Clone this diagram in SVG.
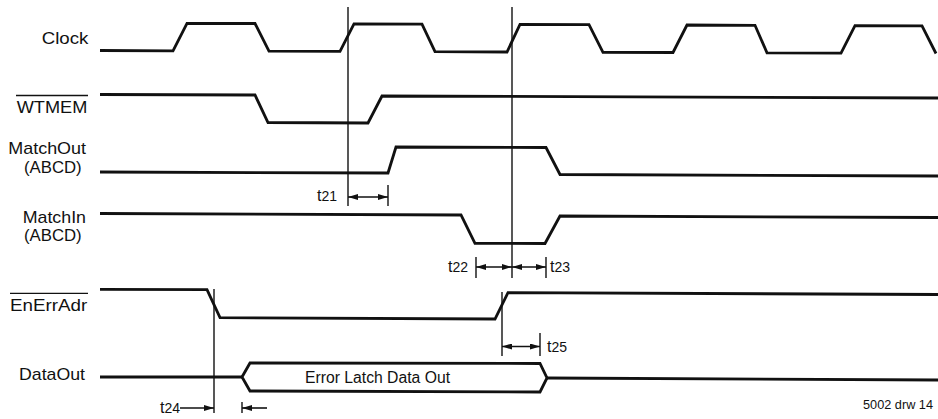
<svg xmlns="http://www.w3.org/2000/svg" width="938" height="419" viewBox="0 0 938 419">
<style>
.sig{fill:none;stroke:#111;stroke-width:2.8;stroke-linejoin:miter}
.ref{fill:none;stroke:#111;stroke-width:1.4}
.dim{fill:none;stroke:#111;stroke-width:1.6}
.lbl{font-family:"Liberation Sans",Arial,sans-serif;font-size:17px;fill:#111}
.tl{font-family:"Liberation Sans",Arial,sans-serif;font-size:16px;fill:#111}
.ts{font-size:14px}
.ovl{fill:none;stroke:#111;stroke-width:1.3}
</style>
<defs>
<marker id="ah" viewBox="0 0 10 6" refX="10" refY="3" markerWidth="10" markerHeight="6" markerUnits="userSpaceOnUse" orient="auto-start-reverse">
<path d="M0,0 L10,3 L0,6 Z" fill="#111"/>
</marker>
</defs>
<rect width="938" height="419" fill="#fff"/>

<g id="clock">
<text class="lbl" x="41.7" y="44" textLength="46.7" lengthAdjust="spacingAndGlyphs">Clock</text>
<polyline class="sig" points="100,50.5 173,50.8 187,23.3 255,23.5 269,51.1 340,51.3 354,23.9 422,24.1 435,51.7 507,52 520,24.5 589,24.7 603,52.3 673,52.5 687,25 755,25.3 767,52.8 841,53.1 855,25.6 922,25.9 936,53.5"/>
</g>

<g id="wtmem">
<text class="lbl" x="16.7" y="112.7" textLength="70.6" lengthAdjust="spacingAndGlyphs">WTMEM</text>
<line class="ovl" x1="16" y1="95.5" x2="88" y2="95.5"/>
<polyline class="sig" points="100,94.5 255,95 268,122.5 368,123 382,96 938,98"/>
</g>

<g id="matchout">
<text class="lbl" x="8.3" y="154" textLength="77.7" lengthAdjust="spacingAndGlyphs">MatchOut</text>
<text class="lbl" x="24" y="172.5" textLength="57.7" lengthAdjust="spacingAndGlyphs">(ABCD)</text>
<polyline class="sig" points="100,172 388,173 396,147 546,147.5 560,174.5 938,176"/>
</g>

<g id="matchin">
<text class="lbl" x="22.7" y="223" textLength="63.3" lengthAdjust="spacingAndGlyphs">MatchIn</text>
<text class="lbl" x="24" y="241" textLength="57.7" lengthAdjust="spacingAndGlyphs">(ABCD)</text>
<polyline class="sig" points="100,213.5 461,215 475,243.3 545,243.5 560,216 938,217.5"/>
</g>

<g id="enerradr">
<text class="lbl" x="10" y="310.7" textLength="77.3" lengthAdjust="spacingAndGlyphs">EnErrAdr</text>
<line class="ovl" x1="10" y1="293.3" x2="88" y2="293.3"/>
<polyline class="sig" points="100,289.3 207,289.7 220,317.7 495,319 508,292.7 938,294.5"/>
</g>

<g id="dataout">
<text class="lbl" x="19" y="380" textLength="66" lengthAdjust="spacingAndGlyphs">DataOut</text>
<polyline class="sig" points="100,377 242,377"/>
<path class="sig" d="M242,377 L250,363 L540,363.5 L547,378 L540,392 L250,391 Z" fill="#fff"/>
<polyline class="sig" points="547,378 938,380"/>
<text class="tl" x="305" y="382.5" textLength="145" lengthAdjust="spacingAndGlyphs">Error Latch Data Out</text>
</g>

<g id="connectors">
<line class="ref" x1="348" y1="7" x2="348" y2="206"/>
<line class="ref" x1="512" y1="7" x2="512" y2="278"/>
<line class="ref" x1="214" y1="289" x2="214" y2="413"/>
<line class="ref" x1="502" y1="292" x2="502" y2="356"/>
<line class="ref" x1="388" y1="185" x2="388" y2="206"/>
<line class="ref" x1="476" y1="257" x2="476" y2="278"/>
<line class="ref" x1="546" y1="257" x2="546" y2="278"/>
<line class="ref" x1="540" y1="333" x2="540" y2="356"/>
<line class="ref" x1="242" y1="402" x2="242" y2="413"/>
<line class="dim" x1="348" y1="197" x2="388" y2="197" marker-start="url(#ah)" marker-end="url(#ah)"/>
<line class="dim" x1="476" y1="267" x2="512" y2="267" marker-start="url(#ah)" marker-end="url(#ah)"/>
<line class="dim" x1="512" y1="267" x2="546" y2="267" marker-start="url(#ah)" marker-end="url(#ah)"/>
<line class="dim" x1="502" y1="346.5" x2="540" y2="346.5" marker-start="url(#ah)" marker-end="url(#ah)"/>
<line class="dim" x1="180" y1="408" x2="214" y2="408" marker-end="url(#ah)"/>
<line class="dim" x1="267" y1="408" x2="242" y2="408" marker-end="url(#ah)"/>
<text class="tl" x="317" y="201">t<tspan class="ts">21</tspan></text>
<text class="tl" x="448" y="272">t<tspan class="ts">22</tspan></text>
<text class="tl" x="550" y="272">t<tspan class="ts">23</tspan></text>
<text class="tl" x="160" y="413">t<tspan class="ts">24</tspan></text>
<text class="tl" x="547" y="352">t<tspan class="ts">25</tspan></text>
</g>

<text class="tl" x="863" y="409" style="font-size:12px" textLength="70" lengthAdjust="spacingAndGlyphs">5002 drw 14</text>
</svg>
